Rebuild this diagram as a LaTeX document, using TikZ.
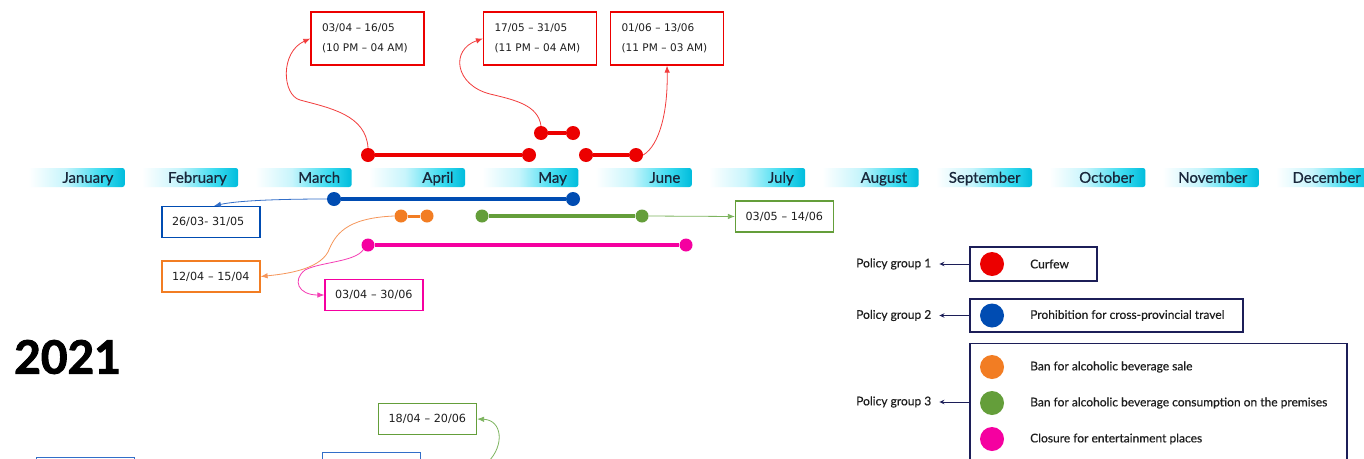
\documentclass[tikz,border=0pt]{standalone}
\usepackage{fontspec}
\setmainfont{Lato}
\newfontfamily\datefont{DejaVu Sans}
\newfontfamily\yearfont{Lato}[FakeBold=2.2]
\newfontfamily\monthfont{Lato}[FakeBold=0.7]
\newfontfamily\legfont{Lato}[FakeBold=0.4]
\usetikzlibrary{arrows.meta}
\definecolor{redc}{RGB}{236,0,0}
\definecolor{redl}{RGB}{242,60,60}
\definecolor{bluec}{RGB}{0,76,178}
\definecolor{bluel}{RGB}{50,110,200}
\definecolor{orangec}{RGB}{242,125,35}
\definecolor{orangel}{RGB}{246,150,90}
\definecolor{greenc}{RGB}{100,158,58}
\definecolor{greenl}{RGB}{125,180,95}
\definecolor{pinkc}{RGB}{245,0,160}
\definecolor{pinkl}{RGB}{245,60,180}
\definecolor{navy}{RGB}{28,30,88}
\definecolor{txt}{RGB}{30,30,30}
\definecolor{monthtxtc}{RGB}{25,40,60}
\definecolor{cyanL}{RGB}{200,245,252}
\definecolor{cyanM}{RGB}{60,220,240}
\definecolor{cyanD}{RGB}{0,188,220}
\pgfdeclarehorizontalshading{monthshade}{100bp}{color(0bp)=(white); color(25bp)=(white); color(30bp)=(white); color(47bp)=(cyanL); color(64bp)=(cyanM); color(75bp)=(cyanD); color(100bp)=(cyanD)}
\begin{document}
\begin{tikzpicture}[x=1pt,y=-1pt,
  monthbar/.style={shading=monthshade, rounded corners=2.5pt, minimum width=107pt, minimum height=19pt, inner sep=0pt},
  monthtxt/.style={font=\monthfont\fontsize{15}{16}\selectfont, text=monthtxtc, inner sep=0pt},
  pdot/.style={circle, fill=#1, inner sep=0pt, minimum size=14pt},
  sdot/.style={circle, fill=#1, inner sep=0pt, minimum size=13pt},
  tline/.style={draw=#1, line width=4pt},
  conn/.style={draw=#1, line width=0.8pt, -{Latex[length=7pt,width=5.5pt]}},
  rbox/.style={draw=redc, line width=1.2pt, fill=white, font={\datefont\fontsize{10.5}{20}\selectfont}, text=txt, align=left, text width=91pt, inner xsep=11pt, inner ysep=0pt, minimum height=53pt},
  sbox/.style={draw=#1, line width=1.2pt, fill=white, font={\datefont\fontsize{11.2}{12}\selectfont}, text=txt, align=left, text width=78pt, inner xsep=10pt, inner ysep=0pt, minimum height=31pt},
  legbox/.style={draw=navy, line width=1.4pt, inner sep=0pt},
  legdot/.style={circle, fill=#1, inner sep=0pt, minimum size=24pt},
  legtxt/.style={font=\legfont\fontsize{12}{14}\selectfont, text=txt, inner sep=0pt, anchor=west},
  pgtxt/.style={font=\legfont\fontsize{12}{14}\selectfont, text=txt, inner sep=1pt, anchor=west},
  legarr/.style={draw=navy, line width=1pt, -{Stealth[length=5pt,width=4.5pt]}}
]
\useasboundingbox (0,0) rectangle (1364,458);
\fill[white] (0,0) rectangle (1364,458);

% months
\foreach \m [count=\i from 0] in {January,February,March,April,May,June,July,August,September,October,November,December}{
  \pgfmathsetmacro\xe{125+113.4*\i}
  \node[monthbar, anchor=east] (m\i) at (\xe,177.5) {};
  \node[monthtxt, anchor=base east] (ml\i) at ([xshift=-11.5pt,yshift=-5.3pt]m\i.east) {\m};
}

% year
\node[font=\yearfont\fontsize{46}{50}\selectfont\bfseries, anchor=west, inner sep=0pt] (year) at (14,357) {2021};

% red curfew lines
\node[pdot=redc] (r1a) at (368,155) {};
\node[pdot=redc] (r1b) at (529,155) {};
\node[pdot=redc] (r2a) at (541,133) {};
\node[pdot=redc] (r2b) at (573,133) {};
\node[pdot=redc] (r3a) at (586,155) {};
\node[pdot=redc] (r3b) at (636,155) {};
\draw[tline=redc] (r1a) -- (r1b);
\draw[tline=redc] (r2a) -- (r2b);
\draw[tline=redc] (r3a) -- (r3b);

\node[rbox] (b1) at (367.5,38.5) {03/04 – 16/05\\(10 PM – 04 AM)};
\node[rbox] (b2) at (540,38.5) {17/05 – 31/05\\(11 PM – 04 AM)};
\node[rbox] (b3) at (667,38.5) {01/06 – 13/06\\(11 PM – 03 AM)};

\draw[conn=redl] (r1a.north) .. controls (366,115) and (330,108) .. (300,100) .. controls (282,95) and (280,52) .. (b1.west);
\draw[conn=redl] (r2a.north) .. controls (538,105) and (515,100) .. (490,94) .. controls (455,85) and (450,50) .. (b2.west);
\draw[conn=redl] (r3b.east) .. controls (660,145) and (668,110) .. (b3.south);

% blue
\node[pdot=bluec] (u1) at (334,199) {};
\node[pdot=bluec] (u2) at (573,199) {};
\draw[tline=bluec, line width=4.5pt] (u1) -- (u2);
\node[sbox=bluec] (ub) at (211,222) {26/03- 31/05};
\draw[conn=bluel] (u1.west) .. controls (290,199) and (240,200) .. ([xshift=3pt]ub.north);

% orange
\node[sdot=orangec] (o1) at (401,216) {};
\node[sdot=orangec] (o2) at (427,216) {};
\draw[tline=orangec, line width=3pt] (o1) -- (o2);
\node[sbox=orangec] (ob) at (211,276.5) {12/04 – 15/04};
\draw[conn=orangel] (o1.west) .. controls (345,218) and (335,235) .. (328,252) .. controls (318,270) and (285,274) .. (ob.east);

% green
\node[sdot=greenc] (g1) at (482,216) {};
\node[sdot=greenc] (g2) at (642,216) {};
\draw[tline=greenc] (g1) -- (g2);
\node[sbox=greenc] (gb) at (784.5,216.5) {03/05 – 14/06};
\draw[conn=greenl] (g2.east) -- (gb.west);

% pink
\node[sdot=pinkc] (p1) at (368,245) {};
\node[sdot=pinkc] (p2) at (686,245) {};
\draw[tline=pinkc] (p1) -- (p2);
\node[sbox=pinkc] (pb) at (374,295) {03/04 – 30/06};
\draw[conn=pinkl] (p1.south west) .. controls (355,262) and (320,262) .. (305,270) .. controls (292,280) and (298,295) .. (pb.west);

% lower part (cut off)
\node[sbox=greenc] (gb2) at (427.5,419) {18/04 – 20/06};
\coordinate (gstart) at (488,462);
\draw[conn=greenl] (gstart) .. controls (505,445) and (502,420) .. (gb2.east);
\node[sbox=bluel, anchor=north west, minimum width=98pt] (lbx1) at (36,457) {};
\node[sbox=bluel, anchor=north west, minimum width=98pt] (lbx2) at (322,452) {};

% legend
\node[legbox, minimum width=127pt, minimum height=34pt] (lb1) at (1033.5,264) {};
\node[legdot=redc] (lc1) at (992,264) {};
\node[legtxt] (lt1) at (1030,264) {Curfew};
\node[pgtxt] (pg1) at (855,264) {Policy group 1};
\draw[legarr] (lb1.west) -- ([xshift=7pt]pg1.east);

\node[legbox, minimum width=273pt, minimum height=33pt] (lb2) at (1106.5,315.5) {};
\node[legdot=bluec] (lc2) at (992,315.5) {};
\node[legtxt] (lt2) at (1030,315.5) {Prohibition for cross-provincial travel};
\node[pgtxt] (pg2) at (855,315.5) {Policy group 2};
\draw[legarr] (lb2.west) -- ([xshift=7pt]pg2.east);

\node[legbox, minimum width=377pt, minimum height=150pt, anchor=north] (lb3) at (1158.5,343) {};
\node[legdot=orangec] (lc3) at (992,367) {};
\node[legtxt] (lt3) at (1030,367) {Ban for alcoholic beverage sale};
\node[legdot=greenc] (lc4) at (992,403) {};
\node[legtxt] (lt4) at (1030,403) {Ban for alcoholic beverage consumption on the premises};
\node[legdot=pinkc] (lc5) at (992,439) {};
\node[legtxt] (lt5) at (1030,439) {Closure for entertainment places};
\node[pgtxt] (pg3) at (855,402) {Policy group 3};
\draw[legarr] (pg3 -| lb3.west) -- ([xshift=7pt]pg3.east);
\end{tikzpicture}
\end{document}
